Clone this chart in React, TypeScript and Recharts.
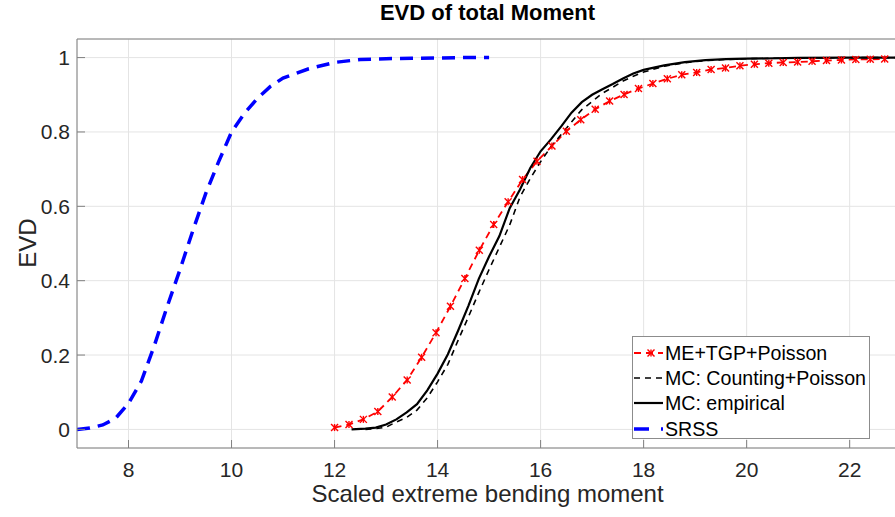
import { LineChart, Line, XAxis, YAxis, CartesianGrid, Legend } from 'recharts'

const xTicks = [8, 10, 12, 14, 16, 18, 20, 22]
const yTicks = [0, 0.2, 0.4, 0.6, 0.8, 1]

// ME+TGP+Poisson (red, dashed with markers)
const meX = [12.0, 12.28, 12.56, 12.84, 13.12, 13.41, 13.69, 13.97, 14.25, 14.53, 14.81, 15.09, 15.37, 15.65, 15.93, 16.22, 16.5, 16.78, 17.06, 17.34, 17.62, 17.9, 18.18, 18.46, 18.74, 19.03, 19.31, 19.59, 19.87, 20.15, 20.43, 20.71, 20.99, 21.27, 21.55, 21.84, 22.12, 22.4, 22.68]
const meY = [0.005, 0.013, 0.027, 0.048, 0.087, 0.133, 0.194, 0.26, 0.331, 0.406, 0.482, 0.551, 0.612, 0.672, 0.721, 0.762, 0.802, 0.833, 0.861, 0.883, 0.901, 0.917, 0.93, 0.943, 0.954, 0.96, 0.968, 0.972, 0.978, 0.982, 0.985, 0.987, 0.988, 0.99, 0.992, 0.9935, 0.995, 0.9955, 0.996]

// MC: Counting+Poisson (black dashed)
const countX = [12.6, 12.8, 13.0, 13.2, 13.4, 13.6, 13.8, 14.0, 14.2, 14.4, 14.6, 14.8, 15.0, 15.2, 15.4, 15.6, 15.8, 16.0, 16.2, 16.4, 16.6, 16.8, 17.0, 17.2, 17.4, 17.6, 17.8, 18.0, 18.4, 18.8, 19.2, 19.6, 20.0, 21.0, 22.0, 22.9]
const countY = [0.0, 0.002, 0.006, 0.02, 0.032, 0.052, 0.085, 0.128, 0.175, 0.24, 0.303, 0.368, 0.43, 0.49, 0.55, 0.625, 0.675, 0.72, 0.76, 0.793, 0.827, 0.86, 0.882, 0.904, 0.92, 0.937, 0.95, 0.961, 0.977, 0.986, 0.992, 0.995, 0.997, 0.999, 1.0, 1.0]

// MC: empirical (black solid)
const empX = [12.33, 12.6, 12.8, 13.0, 13.2, 13.4, 13.6, 13.8, 14.0, 14.2, 14.4, 14.6, 14.8, 15.0, 15.2, 15.4, 15.6, 15.8, 16.0, 16.2, 16.4, 16.6, 16.8, 17.0, 17.2, 17.4, 17.6, 17.8, 18.0, 18.4, 18.8, 19.2, 19.6, 20.0, 21.0, 22.0, 22.9]
const empY = [0.0, 0.002, 0.005, 0.013, 0.027, 0.046, 0.068, 0.105, 0.15, 0.202, 0.266, 0.333, 0.405, 0.465, 0.52, 0.595, 0.645, 0.703, 0.748, 0.78, 0.815, 0.852, 0.88, 0.9, 0.915, 0.929, 0.944, 0.957, 0.967, 0.979, 0.988, 0.993, 0.996, 0.997, 0.999, 1.0, 1.0]

// SRSS (blue dashed, thick)
const srssX = [7, 7.25, 7.5, 7.75, 8, 8.25, 8.5, 8.75, 9, 9.25, 9.5, 9.75, 10, 10.25, 10.5, 10.75, 11, 11.5, 12, 12.5, 13, 13.5, 14, 14.5, 15]
const srssY = [0.0, 0.004, 0.012, 0.03, 0.07, 0.13, 0.225, 0.33, 0.43, 0.535, 0.635, 0.72, 0.8, 0.85, 0.89, 0.922, 0.945, 0.97, 0.987, 0.995, 0.997, 0.998, 0.999, 1.0, 1.0]

const toPoints = (xs: number[], ys: number[]) => xs.map((x, i) => ({ x, y: ys[i] }))

const font = '"Liberation Sans", Arial, Helvetica, sans-serif'
const textColor = '#262626'
const axisColor = '#808080'

const Star = (props: any) => {
  const { cx, cy, index } = props
  if (cx == null || cy == null) return <g key={index} />
  const r = 3.5
  return (
    <g key={index} stroke="#ff0000" strokeWidth={1.4}>
      <line x1={cx - r} y1={cy - r} x2={cx + r} y2={cy + r} />
      <line x1={cx - r} y1={cy + r} x2={cx + r} y2={cy - r} />
      <line x1={cx} y1={cy - r} x2={cx} y2={cy + r} />
    </g>
  )
}

const legendRows = [
  { name: 'ME+TGP+Poisson', color: '#ff0000', width: 1.8, dash: '7 5', star: true },
  { name: 'MC: Counting+Poisson', color: '#000000', width: 1.6, dash: '6 5', star: false },
  { name: 'MC: empirical', color: '#000000', width: 2.2, dash: undefined, star: false },
  { name: 'SRSS', color: '#0000ff', width: 3.5, dash: '15 12', star: false },
]

const LegendBox = () => (
  <div style={{ width: 238, height: 103, boxSizing: 'border-box', border: '1px solid #8c8c8c', background: '#fff', paddingTop: 3, fontFamily: font }}>
    {legendRows.map((r) => (
      <div key={r.name} style={{ display: 'flex', alignItems: 'center', height: 25.3 }}>
        <svg width={31} height={12} style={{ marginLeft: 1 }}>
          <line x1={0} y1={6} x2={29} y2={6} stroke={r.color} strokeWidth={r.width} strokeDasharray={r.dash} />
          {r.star && <Star cx={17} cy={6} index={0} />}
        </svg>
        <span style={{ fontSize: 19.6, color: '#000', lineHeight: '20px', whiteSpace: 'nowrap' }}>{r.name}</span>
      </div>
    ))}
  </div>
)

export default function App() {
  return (
    <div style={{ position: 'absolute', left: 0, top: 0, width: 895, height: 517, overflow: 'hidden', background: '#fff', fontFamily: font }}>
      <div style={{ position: 'absolute', left: 0, width: 975, top: 2, textAlign: 'center', fontSize: 22, fontWeight: 'bold', color: '#000', lineHeight: '22px' }}>
        EVD of total Moment
      </div>
      <div style={{ position: 'absolute', left: 0, width: 975, top: 482, textAlign: 'center', fontSize: 24, color: textColor, lineHeight: '24px' }}>
        Scaled extreme bending moment
      </div>
      <div style={{ position: 'absolute', left: 28, top: 243, transform: 'translate(-50%, -50%) rotate(-90deg)', fontSize: 24, color: textColor, lineHeight: '24px', whiteSpace: 'nowrap' }}>
        EVD
      </div>
      <LineChart width={910} height={517} margin={{ top: 38, left: 76, right: 10.4, bottom: 68 }} style={{ position: 'absolute', left: 0, top: 0 }}>
        <CartesianGrid stroke="#e4e4e4" strokeWidth={1} />
        <XAxis dataKey="x" type="number" domain={[7, 22.95]} ticks={xTicks} allowDataOverflow height={1}
          tickSize={-8} tickMargin={22} stroke={axisColor}
          tick={{ fill: textColor, fontSize: 21, fontFamily: font }} />
        <XAxis xAxisId="top" orientation="top" dataKey="x" type="number" domain={[7, 22.95]} ticks={xTicks} allowDataOverflow height={1}
          tickSize={-8} tick={false} stroke={axisColor} />
        <YAxis type="number" domain={[-0.05, 1.05]} ticks={yTicks} allowDataOverflow width={1}
          tickSize={-8} tickMargin={15} stroke={axisColor}
          tick={{ fill: textColor, fontSize: 21, fontFamily: font }} />
        <YAxis yAxisId="right" orientation="right" type="number" domain={[-0.05, 1.05]} ticks={yTicks} allowDataOverflow width={1}
          tickSize={-8} tick={false} stroke={axisColor} />
        <Line data={toPoints(meX, meY)} dataKey="y" name="ME+TGP+Poisson" type="linear" stroke="#ff0000" strokeWidth={1.8}
          strokeDasharray="7 5" dot={Star} activeDot={false} isAnimationActive={false} />
        <Line data={toPoints(countX, countY)} dataKey="y" name="MC: Counting+Poisson" type="linear" stroke="#000000" strokeWidth={1.6}
          strokeDasharray="6 5" dot={false} activeDot={false} isAnimationActive={false} />
        <Line data={toPoints(empX, empY)} dataKey="y" name="MC: empirical" type="linear" stroke="#000000" strokeWidth={2.2}
          dot={false} activeDot={false} isAnimationActive={false} />
        <Line data={toPoints(srssX, srssY)} dataKey="y" name="SRSS" type="linear" stroke="#0000ff" strokeWidth={3.5}
          strokeDasharray="13 8" dot={false} activeDot={false} isAnimationActive={false} />
        <Legend layout="vertical" align="center" verticalAlign="middle" content={<LegendBox />}
          wrapperStyle={{ position: 'absolute', left: 632, top: 336, bottom: 'auto', width: 238, height: 103 }} />
      </LineChart>
    </div>
  )
}
